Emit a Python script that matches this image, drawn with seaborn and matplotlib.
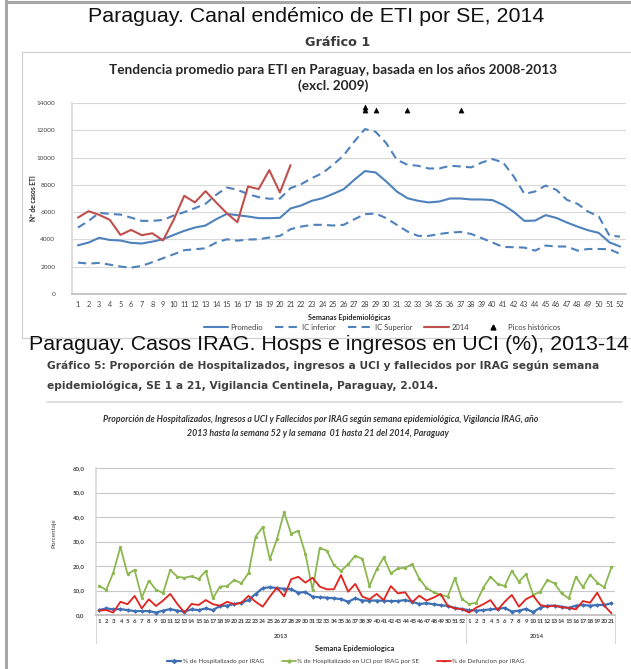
import matplotlib
matplotlib.use("Agg")
import matplotlib.pyplot as plt
import matplotlib.transforms as mtrans
from matplotlib.lines import Line2D
import numpy as np
import pandas as pd
import seaborn as sns

sns.set_theme(style="white")
plt.rcParams['font.family'] = ['Lato', 'DejaVu Sans']

# ---------------- ETI endemic channel (weeks 1-52) ----------------
weeks = list(range(1, 53))
promedio = [3570, 3770, 4120, 3960, 3920, 3750, 3700, 3840, 4010, 4330,
            4630, 4870, 5020, 5480, 5870, 5780, 5680, 5560, 5560, 5580,
            6270, 6490, 6830, 7020, 7340, 7680, 8370, 9010, 8910, 8250,
            7510, 7020, 6830, 6710, 6780, 7000, 7000, 6930, 6930, 6880,
            6530, 6020, 5360, 5380, 5780, 5580, 5240, 4940, 4670, 4480,
            3790, 3480]
ic_inferior = [2300, 2230, 2280, 2150, 2010, 1930, 2060, 2330, 2620, 2910,
               3210, 3280, 3350, 3770, 4010, 3910, 3990, 4010, 4140, 4260,
               4750, 4940, 5070, 5070, 5020, 5070, 5480, 5850, 5900, 5560,
               5070, 4580, 4260, 4260, 4400, 4500, 4550, 4400, 4090, 3770,
               3450, 3430, 3400, 3180, 3550, 3480, 3480, 3180, 3300, 3300,
               3280, 2940]
ic_superior = [4870, 5360, 5950, 5870, 5820, 5600, 5360, 5360, 5430, 5750,
               6000, 6290, 6610, 7270, 7810, 7640, 7320, 7100, 6980, 7000,
               7760, 8050, 8490, 8860, 9470, 10160, 11180, 12090, 11890, 11060,
               9840, 9470, 9400, 9200, 9200, 9400, 9350, 9280, 9640, 9890,
               9640, 8610, 7340, 7510, 7950, 7640, 6900, 6610, 6040, 5680,
               4280, 4210]
weeks_2014 = list(range(1, 22))
eti_2014 = [5600, 6070, 5800, 5430, 4330, 4700, 4310, 4450, 3920, 5430,
            7200, 6710, 7540, 6710, 5920, 5260, 7880, 7690, 9080, 7440,
            9450]
picos_weeks = [28, 28, 29, 32, 37]
picos_vals = [13480, 13700, 13480, 13480, 13480]

# ---------------- IRAG sentinel surveillance (2013 SE 1-52, 2014 SE 1-21) ----------------
irag_labels = [str(w) for w in range(1, 53)] + [str(w) for w in range(1, 22)]
pct_hosp = [2.0, 2.7, 2.3, 2.4, 2.0, 1.6, 1.6, 1.6, 1.0, 1.8,
            2.4, 1.8, 1.4, 2.3, 2.0, 2.7, 2.0, 3.7, 3.8, 4.5,
            5.0, 6.1, 8.6, 11.0, 11.3, 11.0, 10.7, 10.5, 9.1, 9.4,
            7.5, 7.2, 7.1, 6.8, 6.5, 5.4, 6.8, 5.9, 5.9, 5.9,
            5.8, 5.7, 5.7, 6.1, 5.4, 4.5, 4.8, 4.4, 4.0, 3.7,
            2.9, 2.4, 2.0, 1.8, 2.0, 2.3, 2.5, 2.9, 1.4, 1.8,
            2.5, 1.2, 3.0, 3.8, 3.8, 3.4, 2.9, 3.8, 4.1, 3.8,
            4.1, 4.1, 4.8]
pct_uci = [12.0, 10.2, 17.3, 27.8, 16.7, 18.4, 7.1, 14.0, 10.3, 9.0,
           18.4, 15.6, 15.2, 15.8, 14.7, 18.0, 6.9, 11.6, 11.8, 14.3,
           12.9, 17.1, 32.0, 35.9, 22.7, 31.0, 41.9, 33.1, 34.4, 24.9,
           10.2, 27.3, 26.3, 20.4, 18.0, 20.7, 24.2, 22.9, 11.8, 18.6,
           23.5, 17.0, 19.0, 19.3, 20.7, 14.8, 11.1, 9.3, 8.2, 7.5,
           15.1, 6.5, 4.5, 5.0, 11.2, 15.6, 12.7, 11.8, 18.0, 13.6,
           16.7, 8.2, 9.5, 14.3, 12.9, 8.8, 6.8, 15.6, 11.3, 16.5,
           13.2, 11.3, 19.5]
pct_defun = [1.8, 2.0, 1.0, 5.4, 4.4, 7.8, 2.7, 6.4, 3.7, 5.9,
             8.6, 4.5, 1.0, 4.5, 4.1, 6.1, 4.4, 3.8, 5.4, 4.4,
             5.0, 7.8, 5.4, 3.4, 7.5, 11.2, 7.6, 14.6, 15.6, 13.2,
             15.2, 11.6, 10.5, 10.5, 16.3, 9.5, 12.7, 7.5, 6.4, 8.6,
             6.1, 11.8, 8.8, 9.3, 5.2, 7.9, 5.9, 7.1, 8.6, 3.7,
             2.7, 2.4, 1.0, 3.0, 4.4, 6.1, 2.0, 5.4, 8.2, 3.4,
             6.5, 7.9, 4.1, 3.4, 3.8, 3.1, 2.9, 2.3, 5.7, 5.0,
             9.1, 3.8, 0.7]

W, H = 631, 669
fig = plt.figure(figsize=(W / 100, H / 100), dpi=100)


def fx(px):
    return px / W


def fy(py):
    return 1 - py / H


def fig_line(x0, y0, x1, y1, **kw):
    fig.add_artist(Line2D([fx(x0), fx(x1)], [fy(y0), fy(y1)],
                          transform=fig.transFigure, **kw))


# page frame and chart boxes
fig_line(6, 0, 6, H, color="#a6a6a6", lw=2.2)
fig_line(6, 1.5, W, 1.5, color="#a6a6a6", lw=2.2)
fig_line(22, 52, 22, 338, color="#d0d0d0", lw=0.9)
fig_line(22, 52, W, 52, color="#d0d0d0", lw=0.9)
fig_line(22, 338, W, 338, color="#d0d0d0", lw=0.9)
fig_line(47, 402, 622, 402, color="#d9d9d9", lw=1.2)

# headings
fig.text(fx(316), fy(16.5), "Paraguay. Canal endémico de ETI por SE, 2014",
         family="Liberation Sans", fontsize=15.4, ha="center", va="center", color="#111111")
fig.text(fx(338), fy(42), "Gráfico 1", family="DejaVu Sans", fontsize=9.2, fontweight="bold",
         ha="center", va="center", color="#3a3a3a")
fig.text(fx(333), fy(70),
         "Tendencia promedio para ETI en Paraguay, basada en los años 2008-2013",
         fontsize=9.8, fontweight="bold", ha="center", va="center", color="#262626")
fig.text(fx(333), fy(86), "(excl. 2009)", fontsize=9.8, fontweight="bold",
         ha="center", va="center", color="#262626")

fig.text(fx(329), fy(344), "Paraguay. Casos IRAG. Hosps e ingresos en UCI (%), 2013-14",
         family="Liberation Sans", fontsize=15.4, ha="center", va="center", color="#111111")
fig.text(fx(47), fy(366),
         "Gráfico 5: Proporción de Hospitalizados, ingresos a UCI y fallecidos por IRAG según semana",
         family="DejaVu Sans", fontsize=7.65, fontweight="bold", ha="left", va="center",
         color="#404040")
fig.text(fx(47), fy(386),
         "epidemiológica, SE 1 a 21, Vigilancia Centinela, Paraguay, 2.014.",
         family="DejaVu Sans", fontsize=7.65, fontweight="bold", ha="left", va="center",
         color="#404040")
fig.text(fx(321), fy(420),
         "Proporción de Hospitalizados, Ingresos a UCI y Fallecidos por IRAG según semana epidemiológica, Vigilancia IRAG, año",
         fontsize=6.3, fontweight="bold", fontstyle="italic", ha="center", va="center",
         color="#333333")
fig.text(fx(318), fy(433),
         "2013 hasta la semana 52 y la semana  01 hasta 21 del 2014, Paraguay",
         fontsize=6.3, fontweight="bold", fontstyle="italic", ha="center", va="center",
         color="#333333")

# ---------------- top chart ----------------
blue = "#4F81BD"
dash = (0, (4, 2.5))
ax1 = fig.add_axes([fx(72), fy(294), fx(626) - fx(72), fy(103) - fy(294)])
eti = pd.DataFrame({"week": weeks, "Promedio": promedio,
                    "IC inferior": ic_inferior, "IC Superior": ic_superior})
sns.lineplot(data=eti, x="week", y="Promedio", ax=ax1, color=blue, lw=1.5)
sns.lineplot(data=eti, x="week", y="IC inferior", ax=ax1, color=blue, lw=1.5, linestyle=dash)
sns.lineplot(data=eti, x="week", y="IC Superior", ax=ax1, color=blue, lw=1.5, linestyle=dash)
sns.lineplot(x=weeks_2014, y=eti_2014, ax=ax1, color="#C0504D", lw=1.5)
sns.scatterplot(x=picos_weeks, y=picos_vals, ax=ax1, marker="^", color="black",
                s=14, edgecolor="black", linewidth=0.3, zorder=5)

ax1.set_xlim(0.44, 52.56)
ax1.set_ylim(0, 14000)
ax1.set_yticks(range(0, 14001, 2000))
ax1.set_xticks(weeks)
ax1.set_xticklabels([str(w) for w in weeks])
ax1.tick_params(axis="x", labelsize=5.2, colors="#404040", length=2, width=0.6, pad=3)
ax1.tick_params(axis="y", labelsize=4.6, colors="#404040", length=0, pad=12)
ax1.grid(axis="y", color="#d9d9d9", lw=0.8)
for s in ["top", "right"]:
    ax1.spines[s].set_visible(False)
ax1.spines["left"].set_color("#d9d9d9")
ax1.spines["bottom"].set_color("#bfbfbf")
ax1.set_xlabel("Semanas Epidemiológicas", fontsize=5.2, fontweight="bold", color="#262626")
ax1.xaxis.set_label_coords(0.5, -0.105)
ax1.set_ylabel("Nº de casos ETI", fontsize=4.8, fontweight="bold", color="#262626")
ax1.yaxis.set_label_coords(-0.063, 0.5)

h1 = [Line2D([], [], color=blue, lw=1.5),
      Line2D([], [], color=blue, lw=1.5, linestyle=dash),
      Line2D([], [], color=blue, lw=1.5, linestyle=dash),
      Line2D([], [], color="#C0504D", lw=1.5),
      Line2D([], [], color="black", marker="^", linestyle="none", markersize=3.5)]
fig.legend(h1, ["Promedio", "IC inferior", "IC Superior", "2014", "Picos históricos"],
           loc="center", bbox_to_anchor=(fx(382), fy(327)), ncol=5, frameon=False,
           fontsize=5.5, handlelength=3.2, columnspacing=1.6, handletextpad=0.3,
           labelcolor="#404040")

# ---------------- bottom chart ----------------
ax2 = fig.add_axes([fx(95.5), fy(615), fx(615) - fx(95.5), fy(468) - fy(615)])
idx = list(range(len(irag_labels)))
sns.lineplot(x=idx, y=pct_hosp, ax=ax2, color="#3F6FB5", lw=1.6, marker="D",
             markersize=2.4, markeredgewidth=0, zorder=3)
sns.lineplot(x=idx, y=pct_uci, ax=ax2, color="#8DB750", lw=1.3, marker="o",
             markersize=2.4, markeredgewidth=0, zorder=2)
sns.lineplot(x=idx, y=pct_defun, ax=ax2, color="#E0231E", lw=1.3, zorder=4)

ax2.set_xlim(-0.5, len(idx) - 0.5)
ax2.set_ylim(0, 60)
ax2.set_yticks(range(0, 61, 10))
ax2.set_yticklabels([f"{v:.1f}".replace(".", ",") for v in range(0, 61, 10)])
ax2.set_xticks(idx)
ax2.set_xticklabels(irag_labels)
ax2.tick_params(axis="x", labelsize=4.4, colors="#404040", length=0, pad=3)
ax2.tick_params(axis="y", labelsize=4.4, colors="#404040", length=0, pad=8)
for lab in ax2.get_yticklabels() + ax2.get_xticklabels():
    lab.set_fontweight("bold")
ax2.grid(axis="y", color="#c8c8c8", lw=0.8)
for s in ["top", "right"]:
    ax2.spines[s].set_visible(False)
ax2.spines["left"].set_color("#d9d9d9")
ax2.spines["bottom"].set_color("#bfbfbf")

# year group separators under the axis
trans = mtrans.blended_transform_factory(ax2.transData, ax2.transAxes)
for xb in [-0.5, 51.5, len(idx) - 0.5]:
    ax2.add_line(Line2D([xb, xb], [0, -0.19], transform=trans, color="#d9d9d9",
                        lw=0.8, clip_on=False))
ax2.text(25.5, -0.145, "2013", transform=trans, fontsize=4.4, fontweight="bold",
         ha="center", va="center", color="#404040")
ax2.text(61.5, -0.145, "2014", transform=trans, fontsize=4.4, fontweight="bold",
         ha="center", va="center", color="#404040")
ax2.set_xlabel("")
fig.text(fx(355), fy(648), "Semana Epidemiologica", fontsize=5.4, fontweight="bold",
         ha="center", va="center", color="#262626")
fig.text(fx(54), fy(533), "Porcentaje", fontsize=4.5, rotation=90,
         ha="center", va="center", color="#404040")

h2 = [Line2D([], [], color="#3F6FB5", lw=1.6, marker="D", markersize=2),
      Line2D([], [], color="#8DB750", lw=1.3, marker="o", markersize=2),
      Line2D([], [], color="#E0231E", lw=1.3, marker="_", markersize=3)]
fig.legend(h2, ["% de Hospitalizado por IRAG", "% de Hospitalizado en UCI por IRAG por SE",
                "% de Defuncion por IRAG"],
           loc="center", bbox_to_anchor=(fx(346), fy(661)), ncol=3, frameon=False,
           fontsize=4.6, handlelength=2.2, columnspacing=2.8, handletextpad=0.2,
           labelcolor="#404040")

fig.savefig("out.png", dpi=100, facecolor="white")
